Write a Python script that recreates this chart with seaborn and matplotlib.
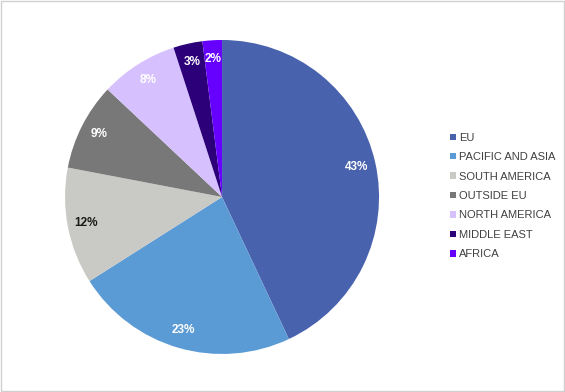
import matplotlib
matplotlib.use("Agg")
import matplotlib.pyplot as plt
import seaborn as sns
from matplotlib.patches import Rectangle

regions = ["EU", "PACIFIC AND ASIA", "SOUTH AMERICA", "OUTSIDE EU",
           "NORTH AMERICA", "MIDDLE EAST", "AFRICA"]
shares = [43, 23, 12, 9, 8, 3, 2]
colors = ["#4862AE", "#5B9BD5", "#C9C9C5", "#787878", "#D6C1FE", "#2C0078", "#6600FF"]
pct_colors = ["white", "white", "#1a1a1a", "white", "white", "white", "white"]

sns.set_style("white")
plt.rcParams['font.family'] = ['Liberation Sans', 'DejaVu Sans']

fig = plt.figure(figsize=(5.65, 3.92), dpi=100)
ax = fig.add_axes([0.115, 0.097, 0.556, 0.801])

wedges, texts, autotexts = ax.pie(shares, colors=colors, startangle=90, counterclock=False,
                                  autopct='%1.0f%%', pctdistance=0.88,
                                  wedgeprops=dict(linewidth=0))
for t, c in zip(autotexts, pct_colors):
    t.set_color(c)
    t.set_fontsize(8.5)
    t.set_fontweight('bold')
ax.set_aspect('equal')
ax.set_xlim(-1.0, 1.0)
ax.set_ylim(-1.0, 1.0)

leg = fig.legend(wedges, regions, loc='center left', bbox_to_anchor=(0.789, 0.5),
                 frameon=False, fontsize=8, handlelength=0.5, handleheight=0.5,
                 handletextpad=0.3, labelspacing=0.85, borderaxespad=0)
for t in leg.get_texts():
    t.set_color('#404040')

fig.patches.append(Rectangle((0.002, 0.002), 0.996, 0.995, transform=fig.transFigure,
                             fill=False, edgecolor='#d0d0d0', linewidth=1))

fig.savefig("out.png", dpi=100)
